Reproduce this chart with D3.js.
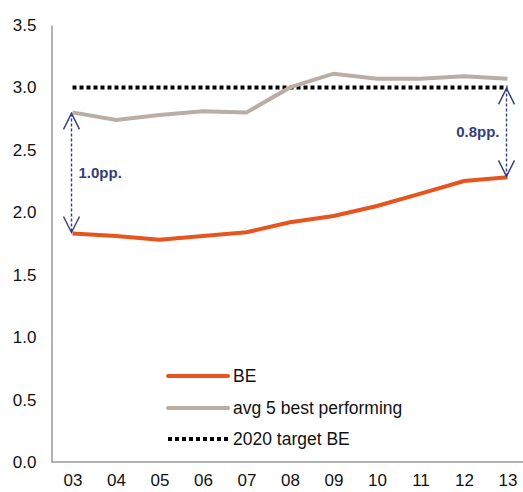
<!DOCTYPE html>
<html><head><meta charset="utf-8">
<script src="https://cdn.jsdelivr.net/npm/d3@7"></script>
<style>body{margin:0;background:#fff}svg{display:block}text{font-family:"Liberation Sans",Arial,sans-serif}</style>
</head><body><svg id="c" width="523" height="492"></svg>
<script>
const categories = ["03","04","05","06","07","08","09","10","11","12","13"];
const beValues = [1.83,1.81,1.78,1.81,1.84,1.92,1.97,2.05,2.15,2.25,2.28];
const avgBestValues = [2.80,2.74,2.78,2.81,2.80,3.00,3.11,3.07,3.07,3.09,3.07];
const targetValues = [3.0,3.0,3.0,3.0,3.0,3.0,3.0,3.0,3.0,3.0,3.0];
const yTicks = [0,0.5,1.0,1.5,2.0,2.5,3.0,3.5];
const seriesNames = ["BE","avg 5 best performing","2020 target BE"];
const gapLabels = ["1.0pp.","0.8pp."];

const svg = d3.select("#c");
const x = d3.scalePoint().domain(categories).range([72.5, 507.5]);
const y = d3.scaleLinear().domain([0,3.5]).range([462,25]);

// axes
const xAxis = svg.append("g").attr("transform","translate(0,462)")
  .call(d3.axisBottom(x).tickSize(0).tickPadding(12));
xAxis.select(".domain").attr("d","M51.5,0H523").attr("stroke","#999").attr("stroke-width",1.5);
xAxis.selectAll("text").attr("font-size",17).attr("fill","#111").attr("font-family","Liberation Sans, Arial, sans-serif");
const yAxis = svg.append("g").attr("transform","translate(51.5,0)")
  .call(d3.axisLeft(y).tickValues(yTicks).tickFormat(d3.format(".1f")).tickSize(0).tickPadding(15));
yAxis.select(".domain").attr("stroke","#999").attr("stroke-width",1.5);
yAxis.selectAll("text").attr("font-size",17).attr("fill","#111").attr("font-family","Liberation Sans, Arial, sans-serif");

const line = d3.line().x((d,i)=>x(categories[i])).y(d=>y(d));
svg.append("path").datum(targetValues).attr("d",line).attr("fill","none")
  .attr("stroke","#000").attr("stroke-width",4).attr("stroke-dasharray","4,3");
svg.append("path").datum(avgBestValues).attr("d",line).attr("fill","none")
  .attr("stroke","#baada6").attr("stroke-width",4);
svg.append("path").datum(beValues).attr("d",line).attr("fill","none")
  .attr("stroke","#e8541e").attr("stroke-width",4);

// gap arrows
const navy = "#343e78";
function gapArrow(cat, v1, v2){
  const xx = x(cat)-1, y1 = y(v1), y2 = y(v2);
  const top = Math.min(y1,y2), bot = Math.max(y1,y2);
  svg.append("line").attr("x1",xx).attr("x2",xx).attr("y1",top+1).attr("y2",bot-1)
    .attr("stroke",navy).attr("stroke-width",1.4).attr("stroke-dasharray","3,2");
  svg.append("path").attr("d",`M${xx-8},${top+17}L${xx},${top+1}L${xx+8},${top+17}`)
    .attr("fill","none").attr("stroke",navy).attr("stroke-width",1.4);
  svg.append("path").attr("d",`M${xx-8},${bot-17}L${xx},${bot-1}L${xx+8},${bot-17}`)
    .attr("fill","none").attr("stroke",navy).attr("stroke-width",1.4);
}
gapArrow("03", avgBestValues[0], beValues[0]);
gapArrow("13", targetValues[10], beValues[10]);
svg.append("text").attr("x",x("03")+6).attr("y",(y(avgBestValues[0])+y(beValues[0]))/2+5)
  .attr("font-size",15).attr("font-weight","bold").attr("fill",navy).text(gapLabels[0]);
svg.append("text").attr("x",x("13")-8).attr("y",(y(targetValues[10])+y(beValues[10]))/2+5)
  .attr("text-anchor","end").attr("font-size",15).attr("font-weight","bold").attr("fill",navy).text(gapLabels[1]);

// legend
const legY = [376,408,439];
const legStyles = [
  {stroke:"#e8541e",dash:null,cap:"round"},
  {stroke:"#baada6",dash:null,cap:"round"},
  {stroke:"#000",dash:"4,3",cap:"butt"}];
seriesNames.forEach((n,i)=>{
  svg.append("line").attr("x1",168).attr("x2",228).attr("y1",legY[i]).attr("y2",legY[i])
    .attr("stroke",legStyles[i].stroke).attr("stroke-width",4)
    .attr("stroke-linecap",legStyles[i].cap).attr("stroke-dasharray",legStyles[i].dash);
  svg.append("text").attr("x",233).attr("y",legY[i]+6).attr("font-size",17.5).attr("fill","#111").text(n);
});
</script></body></html>
